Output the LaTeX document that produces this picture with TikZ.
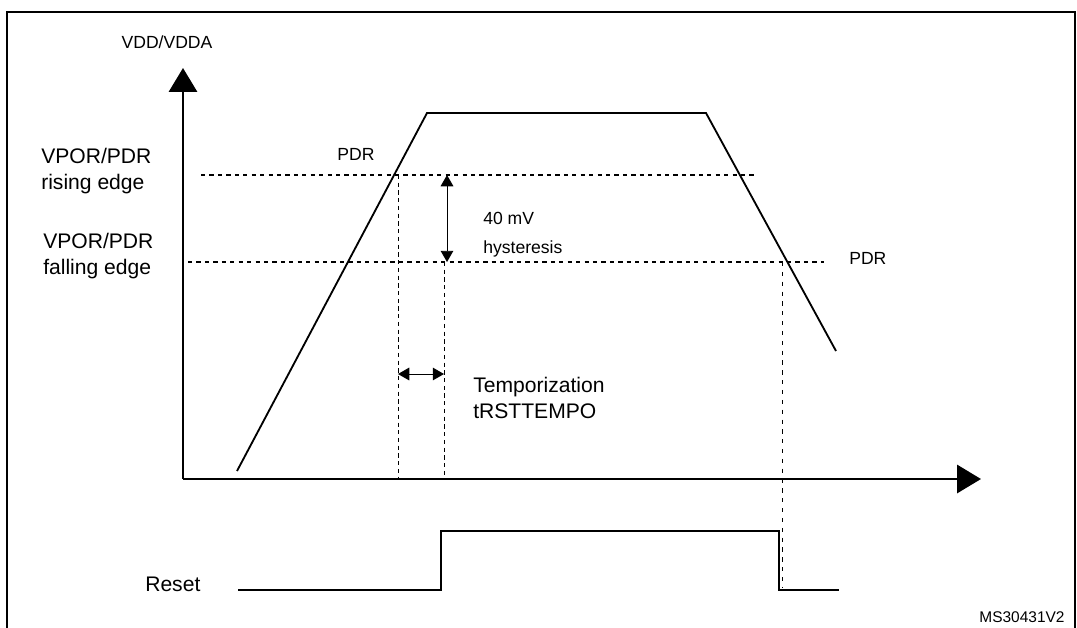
\documentclass[tikz,border=0pt]{standalone}
\usepackage{fontspec}
\setmainfont{Liberation Sans}
\usetikzlibrary{arrows.meta,positioning}
\begin{document}
\begin{tikzpicture}[x=0.025cm,y=-0.025cm,
    font=\fontsize{15}{19}\selectfont,
    axis/.style={line width=1.8pt,-{Triangle[length=17pt,width=20pt]}},
    lvl/.style={dash pattern=on 3pt off 3pt,line width=0.8pt},
    guide/.style={dash pattern=on 3pt off 2.5pt,line width=0.6pt},
    sig/.style={line width=1.3pt},
    dim/.style={line width=0.7pt,{Triangle[length=8pt,width=9pt]}-{Triangle[length=8pt,width=9pt]}},
    lbl/.style={inner sep=0pt,anchor=west},
    small/.style={font=\fontsize{12.5}{15}\selectfont}]
  \useasboundingbox (0,0) rectangle (1077,627);
  \draw[line width=0.9pt] (7,640) -- (7,12) -- (1075,12) -- (1075,640);
  % axes
  \coordinate (o) at (183,479);
  \coordinate (ytop) at (183,68);
  \coordinate (xend) at (981,479);
  \draw[axis] (o) -- (ytop);
  \draw[axis] (o) -- (xend);
  \node[small,inner sep=0pt] (vdd) at (167,42) {VDD/VDDA};
  % thresholds
  \coordinate (r0) at (201,175); \coordinate (r1) at (757,175);
  \coordinate (f0) at (188,262); \coordinate (f1) at (824,262);
  \draw[lvl] (r0) -- (r1);
  \draw[lvl] (f0) -- (f1);
  \node[align=left,lbl] (rise) at (41,171) {VPOR/PDR\\rising edge};
  \node[align=left,lbl] (fall) at (43,256) {VPOR/PDR\\falling edge};
  % supply curve
  \coordinate (c0) at (237,471); \coordinate (c1) at (427,113);
  \coordinate (c2) at (706,113); \coordinate (c3) at (836,351);
  \draw[sig] (c0) -- (c1) -- (c2) -- (c3);
  \node[small,inner sep=0pt] (pdr1) at (356,154) {PDR};
  \node[small,lbl] (pdr2) at (849,258) {PDR};
  % guides
  \coordinate (g1) at (398,175); \coordinate (g1b) at (398,479);
  \coordinate (g2) at (444,262); \coordinate (g2b) at (444,479);
  \coordinate (g3) at (782,262); \coordinate (g3b) at (782,588);
  \draw[guide] (g1) -- (g1b);
  \draw[guide] (g2) -- (g2b);
  \draw[guide,dash pattern=on 3pt off 4pt] (g3) -- (g3b);
  % hysteresis
  \coordinate (h0) at (447,175); \coordinate (h1) at (447,262);
  \draw[dim] (h0) -- (h1);
  \node[small,lbl] (mv) at (483,218) {40 mV};
  \node[small,lbl] (hys) at (483,249) {hysteresis};
  % temporization
  \coordinate (t0) at (398,374); \coordinate (t1) at (444,374);
  \draw[dim] (t0) -- (t1);
  \node[lbl,align=left] (temp) at (473,398) {Temporization\\tRSTTEMPO};
  % reset
  \coordinate (s0) at (238,590); \coordinate (s1) at (441,590);
  \coordinate (s2) at (441,531); \coordinate (s3) at (779,531);
  \coordinate (s4) at (779,590); \coordinate (s5) at (839,590);
  \draw[sig] (s0) -- (s1) -- (s2) -- (s3) -- (s4) -- (s5);
  \node[lbl] (reset) at (145,584) {Reset};
  \node[inner sep=0pt,font=\fontsize{11}{13}\selectfont] (code) at (1022,617) {MS30431V2};
\end{tikzpicture}
\end{document}
